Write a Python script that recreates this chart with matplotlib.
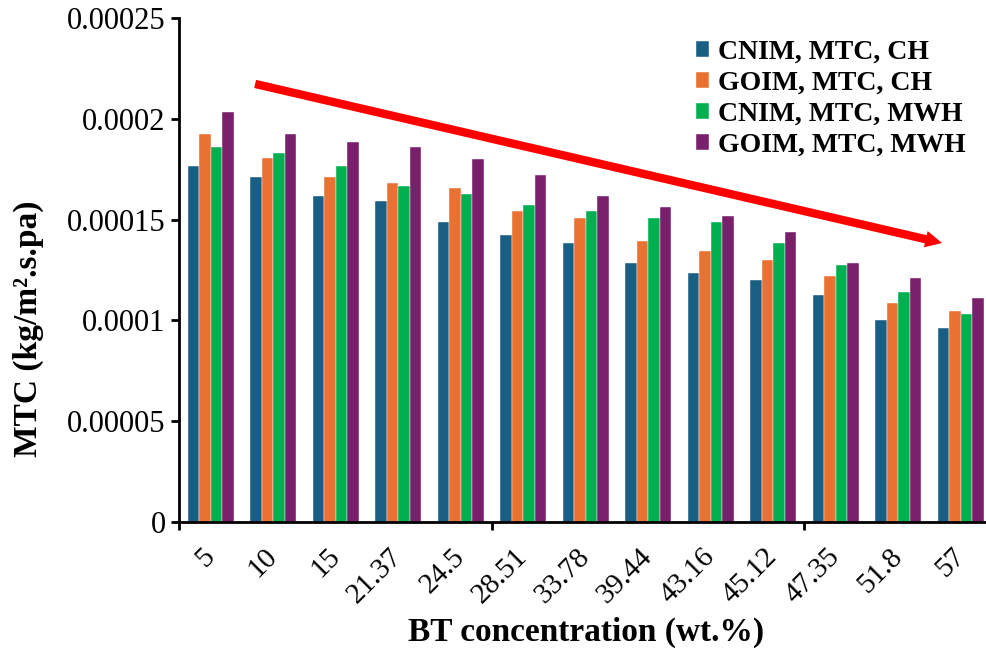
import matplotlib
matplotlib.use('Agg')
import matplotlib.pyplot as plt
import numpy as np

# BT concentration (wt.%) categories
concentrations = ['5', '10', '15', '21.37', '24.5', '28.51', '33.78',
                  '39.44', '43.16', '45.12', '47.35', '51.8', '57']

# MTC values (kg/m2.s.pa)
cnim_ch = [0.0001765, 0.0001710, 0.0001618, 0.0001590, 0.0001490, 0.0001424, 0.0001385,
           0.0001286, 0.0001237, 0.0001198, 0.0001128, 0.0001002, 0.0000963]
goim_ch = [0.0001924, 0.0001805, 0.0001711, 0.0001683, 0.0001655, 0.0001545, 0.0001508,
           0.0001396, 0.0001342, 0.0001302, 0.0001221, 0.0001084, 0.0001045]
cnim_mwh = [0.0001859, 0.0001831, 0.0001765, 0.0001667, 0.0001627, 0.0001573, 0.0001545,
            0.0001508, 0.0001490, 0.0001385, 0.0001277, 0.0001140, 0.0001031]
goim_mwh = [0.0002036, 0.0001924, 0.0001887, 0.0001859, 0.0001803, 0.0001720, 0.0001617,
            0.0001562, 0.0001518, 0.0001440, 0.0001286, 0.0001210, 0.0001110]

series_names = ['CNIM, MTC, CH', 'GOIM, MTC, CH', 'CNIM, MTC, MWH', 'GOIM, MTC, MWH']
colors = ['#195E83', '#E97132', '#00B050', '#7A1F6C']

y_ticks = [0, 0.00005, 0.0001, 0.00015, 0.0002, 0.00025]
y_tick_labels = ['0', '0.00005', '0.0001', '0.00015', '0.0002', '0.00025']

plt.rcParams['font.family'] = ['Liberation Serif', 'DejaVu Serif']

fig = plt.figure(figsize=(9.87, 6.53), dpi=100)
W, H = 987, 653
left, right, bottom, top = 179.5, 179.5 + 13 * 62.5, 522, 18
ax = fig.add_axes([left / W, 1 - bottom / H, (right - left) / W, (bottom - top) / H])

x = np.arange(len(concentrations))
bw = 0.184
for i, (vals, name, c) in enumerate(zip([cnim_ch, goim_ch, cnim_mwh, goim_mwh], series_names, colors)):
    ax.bar(x + (i - 1.5) * bw, vals, bw, color=c, label=name, edgecolor='white', linewidth=0.3)

ax.set_xlim(-0.5, len(concentrations) - 0.5)
ax.set_ylim(0, 0.00025)
ax.set_yticks(y_ticks)
ax.set_yticklabels(y_tick_labels, fontsize=22)

# category boundary ticks every 5 groups, labels at group centres
ax.set_xticks([-0.5, 4.5, 9.5])
ax.set_xticklabels([])
ax.tick_params(axis='x', which='major', length=6, width=2, direction='out')
ax.set_xticks(x, minor=True)
ax.set_xticklabels(concentrations, minor=True, fontsize=21, rotation=45,
                   ha='right', va='center', rotation_mode='anchor')
ax.tick_params(axis='x', which='minor', length=0, pad=22)
ax.tick_params(axis='y', length=6, width=2, direction='out', pad=4)

for s in ['top', 'right']:
    ax.spines[s].set_visible(False)
ax.spines['left'].set_linewidth(2)
ax.spines['bottom'].set_linewidth(2)

ax.set_ylabel('MTC (kg/m\u00b2.s.pa)', fontsize=24, fontweight='bold')
ax.yaxis.set_label_coords((44 - left) / (right - left), (bottom - 329) / (bottom - top))
ax.set_xlabel('BT concentration (wt.%)', fontsize=24, fontweight='bold', labelpad=6)

ax.legend(loc='upper right', bbox_to_anchor=(985 / W, 1 - 20 / H), bbox_transform=fig.transFigure,
          frameon=False, prop={'weight': 'bold', 'size': 20}, handlelength=0.5, handleheight=0.5,
          handletextpad=0.3, labelspacing=0.22, borderpad=0.2)

# trend arrow
ax.annotate('', xy=(11.7, 0.0001384), xytext=(0.71, 0.0002173),
            arrowprops=dict(arrowstyle='simple,head_length=1.2,head_width=1.2,tail_width=0.6',
                            color='red', lw=0, mutation_scale=10, shrinkA=0, shrinkB=0))

fig.savefig('out.png', dpi=100)
